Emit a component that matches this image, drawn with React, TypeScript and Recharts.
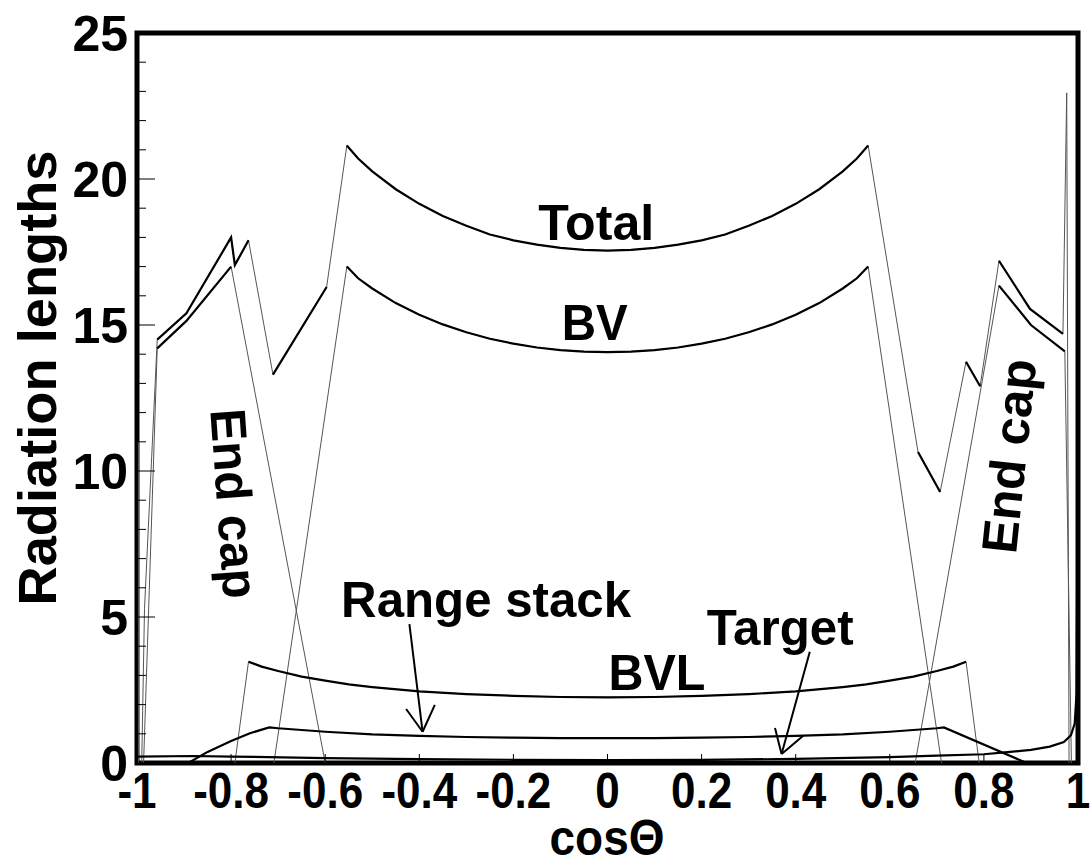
import React from 'react';
import { LineChart, Line, XAxis, YAxis, ReferenceArea, ReferenceLine, ReferenceDot } from 'recharts';

const FONT = '"Liberation Sans", Arial, Helvetica, sans-serif';

// tick values
const xTicks = [-1, -0.8, -0.6, -0.4, -0.2, 0, 0.2, 0.4, 0.6, 0.8, 1];
const yTicks = [0, 1, 2, 3, 4, 5, 6, 7, 8, 9, 10, 11, 12, 13, 14, 15, 16, 17, 18, 19, 20, 21, 22, 23, 24, 25];

// Total; totalThin = indexes of segments drawn as thin connectors
const totalCos = [-0.99, -0.984, -0.957, -0.895, -0.8, -0.792, -0.763, -0.711, -0.597, -0.554, -0.53, -0.5, -0.45, -0.4, -0.35, -0.3, -0.25, -0.2, -0.15, -0.1, -0.05, 0, 0.05, 0.1, 0.15, 0.2, 0.25, 0.3, 0.35, 0.4, 0.45, 0.5, 0.53, 0.554, 0.66, 0.707, 0.762, 0.792, 0.832, 0.898, 0.968, 0.976, 0.981];
const totalRad = [0, 5.3, 14.5, 15.4, 18.0, 17.05, 17.9, 13.3, 16.3, 21.15, 20.7, 20.26, 19.65, 19.15, 18.73, 18.4, 18.1, 17.9, 17.75, 17.64, 17.57, 17.55, 17.57, 17.64, 17.75, 17.9, 18.1, 18.4, 18.73, 19.15, 19.65, 20.26, 20.7, 21.15, 10.65, 9.28, 13.74, 12.9, 17.2, 15.55, 14.7, 22.95, 0];
const totalThin = [0, 1, 6, 8, 33, 35, 37, 40, 41];

// BV: left end cap, barrel, right end cap (null = gap)
const bvCos = [-0.986, -0.957, -0.895, -0.8, -0.6, -0.65, -0.709, -0.554, -0.53, -0.5, -0.45, -0.4, -0.35, -0.3, -0.25, -0.2, -0.15, -0.1, -0.05, 0, 0.05, 0.1, 0.15, 0.2, 0.25, 0.3, 0.35, 0.4, 0.45, 0.5, 0.53, 0.554, 0.71, 0.68, 0.654, 0.832, 0.9, 0.972, 0.986];
const bvRad = [0, 14.2, 15.14, 17.0, 0, null, 0, 17.0, 16.6, 16.25, 15.75, 15.35, 15.02, 14.75, 14.53, 14.36, 14.23, 14.14, 14.09, 14.07, 14.09, 14.14, 14.23, 14.36, 14.53, 14.75, 15.02, 15.35, 15.75, 16.25, 16.6, 17.0, 0, null, 0, 16.35, 15.0, 14.1, 0];
const bvThin = [0, 3, 4, 5, 6, 31, 32, 33, 34, 37];

// BVL
const bvlCos = [-0.792, -0.763, -0.735, -0.7, -0.65, -0.6, -0.55, -0.5, -0.4, -0.3, -0.2, -0.1, 0, 0.1, 0.2, 0.3, 0.4, 0.5, 0.55, 0.6, 0.65, 0.7, 0.735, 0.762, 0.79];
const bvlRad = [0, 3.47, 3.3, 3.15, 2.96, 2.82, 2.69, 2.6, 2.45, 2.36, 2.3, 2.26, 2.25, 2.26, 2.3, 2.36, 2.45, 2.6, 2.69, 2.82, 2.96, 3.15, 3.3, 3.47, 0];
const bvlThin = [0, 23];

// Range stack
const rangeCos = [-0.891, -0.85, -0.8, -0.76, -0.719, -0.7, -0.65, -0.6, -0.5, -0.4, -0.3, -0.2, -0.1, 0, 0.1, 0.2, 0.3, 0.4, 0.5, 0.6, 0.65, 0.7, 0.715, 0.891];
const rangeRad = [0, 0.38, 0.75, 1.02, 1.22, 1.19, 1.13, 1.07, 0.98, 0.93, 0.89, 0.87, 0.855, 0.85, 0.855, 0.87, 0.89, 0.93, 0.98, 1.07, 1.13, 1.19, 1.22, 0];

// Target
const targetCos = [-1, -0.88, -0.8, -0.6, -0.4, -0.2, 0, 0.2, 0.4, 0.6, 0.7, 0.8, 0.85, 0.9, 0.94, 0.97, 0.985, 0.993, 0.997, 0.999];
const targetRad = [0.22, 0.24, 0.22, 0.17, 0.13, 0.11, 0.1, 0.11, 0.14, 0.2, 0.25, 0.3, 0.37, 0.45, 0.56, 0.72, 0.95, 1.35, 2.4, 9];

// thin spike near cos = -1
const spikeCos = [-0.997, -0.997];
const spikeRad = [0, 11];

// text annotations (cos, radiation lengths of the text baseline centre)
const labels = [
  { text: 'Total', cos: -0.024, rad: 17.9, angle: 0, len: 116 },
  { text: 'BV', cos: -0.027, rad: 14.5, angle: 0, len: 66 },
  { text: 'Range stack', cos: -0.258, rad: 5.01, angle: 0, len: 290 },
  { text: 'Target', cos: 0.367, rad: 4.04, angle: 0, len: 147 },
  { text: 'BVL', cos: 0.105, rad: 2.5, angle: 0, len: 97 },
  { text: 'End cap', cos: -0.83, rad: 8.84, angle: 86, len: 190 },
  { text: 'End cap', cos: 0.89, rad: 10.45, angle: -84, len: 195 },
];

// arrows: tail, tip, two wings
const arrows = [
  { tail: [-0.421, 4.76], tip: [-0.393, 1.07], w1: [-0.428, 1.85], w2: [-0.367, 1.99] },
  { tail: [0.43, 3.81], tip: [0.37, 0.31], w1: [0.356, 1.2], w2: [0.416, 0.93] },
];

type Pt = { x: number; y: number | null };

const toPoints = (xs: number[], ys: (number | null)[]): Pt[] => xs.map((x, i) => ({ x, y: ys[i] }));

// keep only the thick segments, breaking the line where a thin connector is
function thickPoints(xs: number[], ys: (number | null)[], thinSegs: number[]): Pt[] {
  const out: Pt[] = [];
  const isThick = (s: number) => s >= 0 && s < xs.length - 1 && !thinSegs.includes(s);
  for (let i = 0; i < xs.length; i++) {
    const prev = isThick(i - 1);
    const next = isThick(i);
    if (prev || next) out.push({ x: xs[i], y: ys[i] });
    if (prev && !next) out.push({ x: xs[i], y: null });
  }
  return out;
}

const XTick = (props: any) => {
  const { x, y, payload } = props;
  return (
    <g>
      <line x1={x} x2={x} y1={y} y2={y - 9} stroke="#000" strokeWidth={1} />
      <g transform={`translate(${x},${y + 45}) scale(0.88,1)`}>
        <text x={0} y={0} textAnchor="middle" fontFamily={FONT} fontWeight="bold" fontSize={50} fill="#000">
          {String(payload.value)}
        </text>
      </g>
    </g>
  );
};

const YTick = (props: any) => {
  const { x, y, payload } = props;
  const major = payload.value % 5 === 0;
  return (
    <g>
      <line x1={x} x2={x + (major ? 18 : 9)} y1={y} y2={y} stroke="#000" strokeWidth={1} />
      {major && (
        <text x={x - 9} y={y + 18} textAnchor="end" fontFamily={FONT} fontWeight="bold" fontSize={50} fill="#000">
          {payload.value}
        </text>
      )}
    </g>
  );
};

const thin = { stroke: '#555', strokeWidth: 1 };
const thick = { stroke: '#000', strokeWidth: 2.2 };

export default function App() {
  const series = [
    { name: 'total', xs: totalCos, ys: totalRad, thin: totalThin },
    { name: 'bv', xs: bvCos, ys: bvRad, thin: bvThin },
    { name: 'bvl', xs: bvlCos, ys: bvlRad, thin: bvlThin },
  ];
  return (
    <div style={{ position: 'absolute', left: 0, top: 0, width: 1092, height: 866, background: '#fff' }}>
      <LineChart width={1092} height={866} margin={{ top: 33, right: 14, bottom: 0, left: 0 }}>
        <XAxis
          type="number"
          dataKey="x"
          domain={[-1, 1]}
          ticks={xTicks}
          interval={0}
          allowDataOverflow
          height={103}
          axisLine={false}
          tickLine={false}
          tickSize={0}
          tickMargin={0}
          tick={<XTick />}
        />
        <YAxis
          type="number"
          dataKey="y"
          domain={[0, 25]}
          ticks={yTicks}
          interval={0}
          allowDataOverflow
          width={137}
          axisLine={false}
          tickLine={false}
          tickSize={0}
          tickMargin={0}
          tick={<YTick />}
        />
        {series.map((s) => (
          <Line key={s.name + '-thin'} data={toPoints(s.xs, s.ys)} dataKey="y" type="linear" dot={false} activeDot={false} isAnimationActive={false} {...thin} />
        ))}
        <Line data={toPoints(spikeCos, spikeRad)} dataKey="y" type="linear" dot={false} activeDot={false} isAnimationActive={false} {...thin} />
        {series.map((s) => (
          <Line key={s.name + '-thick'} data={thickPoints(s.xs, s.ys, s.thin)} dataKey="y" type="linear" dot={false} activeDot={false} isAnimationActive={false} {...thick} />
        ))}
        <Line data={toPoints(rangeCos, rangeRad)} dataKey="y" type="linear" dot={false} activeDot={false} isAnimationActive={false} {...thick} />
        <Line data={toPoints(targetCos, targetRad)} dataKey="y" type="linear" dot={false} activeDot={false} isAnimationActive={false} {...thick} />

        {arrows.map((a, i) => (
          <React.Fragment key={'arrow' + i}>
            <ReferenceLine segment={[{ x: a.tail[0], y: a.tail[1] }, { x: a.tip[0], y: a.tip[1] }]} stroke="#000" strokeWidth={2} />
            <ReferenceLine segment={[{ x: a.w1[0], y: a.w1[1] }, { x: a.tip[0], y: a.tip[1] }]} stroke="#000" strokeWidth={2} />
            <ReferenceLine segment={[{ x: a.w2[0], y: a.w2[1] }, { x: a.tip[0], y: a.tip[1] }]} stroke="#000" strokeWidth={2} />
          </React.Fragment>
        ))}

        {labels.map((l, i) => (
          <ReferenceDot
            key={'lab' + i}
            x={l.cos}
            y={l.rad}
            r={0}
            ifOverflow="visible"
            shape={(p: any) => (
              <text
                x={p.cx}
                y={p.cy}
                transform={l.angle ? `rotate(${l.angle}, ${p.cx}, ${p.cy})` : undefined}
                textAnchor="middle"
                fontFamily={FONT}
                fontWeight="bold"
                fontSize={50}
                textLength={l.len}
                lengthAdjust="spacingAndGlyphs"
                fill="#000"
              >
                {l.text}
              </text>
            )}
          />
        ))}

        <ReferenceArea x1={-1} x2={1} y1={0} y2={25} fill="none" fillOpacity={0} stroke="#000" strokeWidth={5} ifOverflow="visible" />
      </LineChart>
      <svg width={1092} height={866} style={{ position: 'absolute', left: 0, top: 0, pointerEvents: 'none' }}>
        <text
          x={56}
          y={378}
          transform="rotate(-90, 56, 378)"
          textAnchor="middle"
          fontFamily={FONT}
          fontWeight="bold"
          fontSize={54}
          textLength={455}
          lengthAdjust="spacingAndGlyphs"
        >
          Radiation lengths
        </text>
        <text
          x={607}
          y={855}
          textAnchor="middle"
          fontFamily={FONT}
          fontWeight="bold"
          fontSize={50}
          textLength={115}
          lengthAdjust="spacingAndGlyphs"
        >
          cosΘ
        </text>
      </svg>
    </div>
  );
}
